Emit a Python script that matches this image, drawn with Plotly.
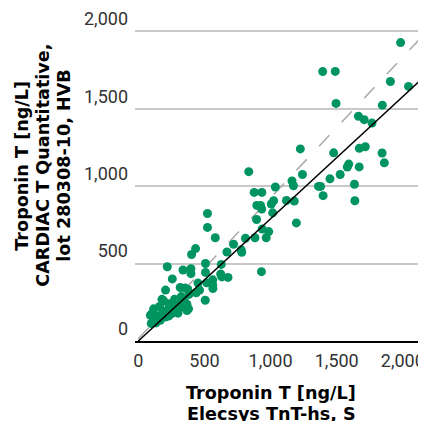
import plotly.graph_objects as go

# Elecsys TnT-hs (x) vs CARDIAC T Quantitative (y), ng/L
elecsys = [1983, 1394, 1489, 1906, 2043, 1495, 1845, 1664, 1708, 1767,
           1225, 1671, 1716, 1477, 1843, 1860, 1591, 1580, 1670, 835,
           1241, 1526, 1449, 1162, 1173, 1036, 1362, 1378, 1634, 876,
           934, 1397, 1120, 1179, 1023, 1005, 1637, 896, 924, 933,
           1016, 894, 1195, 937, 986, 810, 882, 967, 778, 782,
           931, 523, 523, 582, 720, 670, 433, 403, 219, 508,
           627, 338, 398, 398, 508, 623, 632, 678, 257, 517,
           563, 563, 564, 451, 463, 317, 355, 375, 206, 438,
           383, 506, 179, 191, 325, 274, 300, 312, 279, 355,
           368, 380, 229, 234, 249, 279, 300, 368, 161, 116,
           103, 91, 128, 144, 153, 116, 98, 134, 166, 191,
           217, 204, 229, 179]
cardiac_t = [1928, 1741, 1742, 1677, 1645, 1535, 1524, 1452, 1430, 1408,
             1241, 1245, 1255, 1216, 1215, 1151, 1143, 1124, 1125, 1094,
             1076, 1076, 1048, 1034, 1003, 995, 999, 999, 1013, 960,
             960, 939, 908, 904, 906, 885, 906, 876, 876, 853,
             828, 785, 763, 724, 707, 664, 667, 667, 589, 573,
             448, 824, 734, 667, 625, 575, 597, 559, 480, 501,
             495, 459, 467, 435, 443, 433, 414, 411, 401, 376,
             395, 363, 339, 374, 329, 346, 342, 333, 329, 312,
             301, 263, 269, 261, 287, 269, 240, 212, 218, 250,
             236, 208, 240, 208, 176, 187, 180, 197, 223, 208,
             176, 166, 166, 155, 145, 134, 113, 117, 134, 166,
             197, 155, 161, 176]

# reference lines (x end points and line parameters)
line_x = [0, 2175]
regression_slope = 0.79
dashed_slope, dashed_intercept = 0.91, 15

tick_vals = [0, 500, 1000, 1500, 2000]
tick_text = ["0", "500", "1,000", "1,500", "2,000"]

GREEN = "#009460"

fig = go.Figure()
fig.add_trace(go.Scatter(
    x=line_x, y=[dashed_intercept + dashed_slope * v for v in line_x],
    mode="lines", line=dict(color="#aaaaaa", width=1.5, dash="15px,18px"),
    hoverinfo="skip", showlegend=False, cliponaxis=True))
fig.add_trace(go.Scatter(
    x=elecsys, y=cardiac_t, mode="markers",
    marker=dict(color=GREEN, size=9, line=dict(width=0)),
    showlegend=False, cliponaxis=False))
fig.add_trace(go.Scatter(
    x=line_x, y=[regression_slope * v for v in line_x],
    mode="lines", line=dict(color="black", width=1.5),
    hoverinfo="skip", showlegend=False, cliponaxis=True))

tick_font = dict(family="Roboto", size=18, color="#333333")
title_font = dict(family="DejaVu Sans", size=17.6, color="black")

# the page body adds an 8px offset; figure is sized to fill the rest
OFF = 8
fig.update_layout(
    width=426 - OFF, height=421 - OFF,
    margin=dict(l=135 - OFF, r=0, t=11 - OFF, b=80),
    paper_bgcolor="white", plot_bgcolor="white",
    showlegend=False,
    xaxis=dict(range=[-25, 2175], tickvals=tick_vals, ticktext=tick_text,
               showgrid=False, zeroline=False, showline=True,
               linecolor="black", linewidth=2, ticks="",
               tickfont=tick_font, ticklabelstandoff=2, fixedrange=True),
    yaxis=dict(range=[0, 2100], tickvals=tick_vals, ticktext=tick_text,
               showgrid=True, gridcolor="#c8c8c8", gridwidth=1.5,
               zeroline=False, showline=False, ticks="",
               ticklabelposition="outside top", ticklabeloverflow="allow",
               tickfont=tick_font, ticklabelstandoff=6, fixedrange=True),
)

def px_to_paper_x(px):
    return (px - 135) / 291

def px_to_paper_y(py):
    return (341 - py) / 330

# x-axis title lines
for text, py in [("Troponin T [ng/L]", 394), ("Elecsys TnT-hs, S", 415)]:
    fig.add_annotation(text="<b>" + text + "</b>", xref="paper", yref="paper",
                       x=px_to_paper_x(271), y=px_to_paper_y(py),
                       xanchor="center", yanchor="middle", showarrow=False,
                       font=title_font)

# y-axis title lines
for text, px in [("Troponin T [ng/L]", 22), ("CARDIAC T Quantitative,", 43),
                 ("lot 280308-10, HVB", 64)]:
    fig.add_annotation(text="<b>" + text + "</b>", xref="paper", yref="paper",
                       x=px_to_paper_x(px), y=px_to_paper_y(163),
                       xanchor="center", yanchor="middle", showarrow=False,
                       textangle=-90, font=title_font)

fig.write_html("out.html")
